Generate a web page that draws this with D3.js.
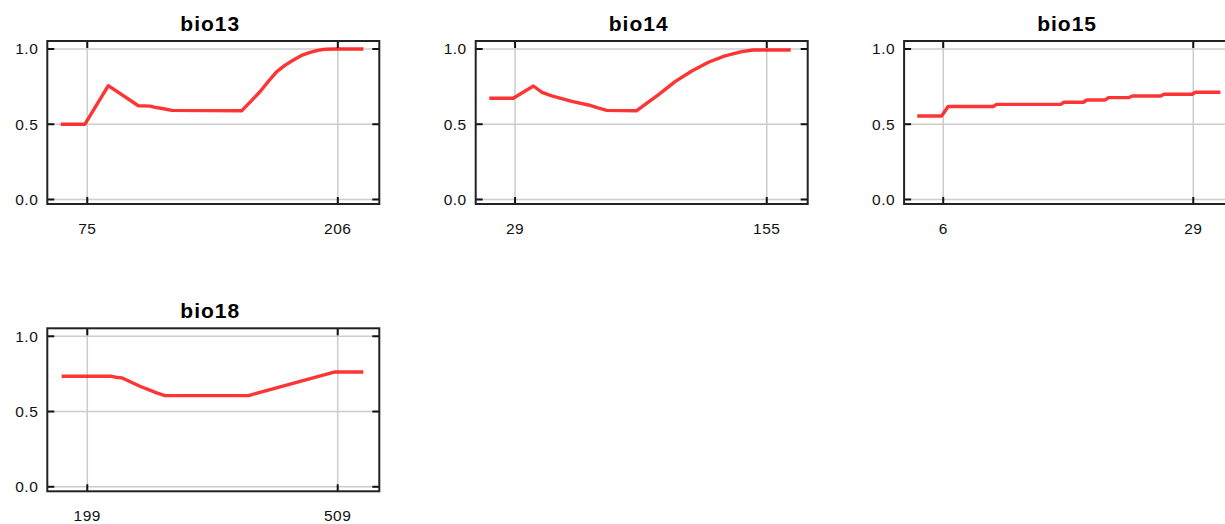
<!DOCTYPE html>
<html>
<head>
<meta charset="utf-8">
<script src="https://cdn.jsdelivr.net/npm/d3@7"></script>
<style>
  html, body { margin: 0; padding: 0; background: #fff; }
  svg { display: block; }
  .title { font-family: "Liberation Sans", Arial, sans-serif; font-weight: bold; font-size: 21px; letter-spacing: 1px; }
  .tick-label { font-family: "Liberation Sans", Arial, sans-serif; font-size: 15.5px; letter-spacing: 0.5px; fill: #111; }
</style>
</head>
<body>
<svg id="chart" width="1225" height="524"></svg>
<script>
// Response curves for each predictor
const variables = ["bio13", "bio14", "bio15", "bio18"];

const bio13X = [61.1, 73.8, 86.0, 101.7, 108.0, 110.4, 113.5, 119.2, 155.8, 160.5, 165.3, 169.8, 174.1, 178.5, 182.8, 187.0, 191.5, 195.5, 199.4, 205.0, 219.4];
const bio13Y = [0.50, 0.50, 0.756, 0.623, 0.620, 0.612, 0.606, 0.592, 0.590, 0.652, 0.716, 0.786, 0.849, 0.893, 0.927, 0.957, 0.978, 0.991, 0.998, 1.0, 1.0];

const bio14X = [16.1, 28.1, 38.2, 42.5, 47.4, 57.4, 65.7, 70.5, 74.9, 89.9, 95.0, 100.7, 109.1, 117.5, 125.8, 134.1, 142.5, 148.3, 167.0];
const bio14Y = [0.673, 0.673, 0.754, 0.712, 0.688, 0.652, 0.628, 0.608, 0.592, 0.590, 0.640, 0.695, 0.783, 0.854, 0.912, 0.954, 0.982, 0.993, 0.993];

const bio15X = [3.6, 5.85, 6.45, 10.6, 10.9, 16.8, 17.1, 18.9, 19.2, 20.9, 21.2, 23.1, 23.4, 26.0, 26.3, 28.9, 29.2, 31.5];
const bio15Y = [0.555, 0.555, 0.618, 0.618, 0.632, 0.632, 0.646, 0.646, 0.661, 0.661, 0.677, 0.677, 0.688, 0.688, 0.699, 0.699, 0.712, 0.712];

const bio18X = [167.3, 229.2, 234.0, 241.6, 264.2, 284.9, 295.2, 398.3, 505.7, 540.7];
const bio18Y = [0.734, 0.734, 0.728, 0.724, 0.668, 0.624, 0.606, 0.606, 0.763, 0.763];

// Axis extents and tick labels
const xDomains = [[54.1, 227.7], [9.3, 175.5], [2.4, 32.94], [149.5, 560.5]];
const xTicks = [[75, 206], [29, 155], [6, 29], [199, 509]];
const yTicks = [0, 0.5, 1.0];
const yTickLabels = ["0.0", "0.5", "1.0"];

const seriesX = [bio13X, bio14X, bio15X, bio18X];
const seriesY = [bio13Y, bio14Y, bio15Y, bio18Y];

const svg = d3.select("#chart");

const panelW = 332, panelH = 163;
const originX = 47.3, originY = 41, stepX = 428.4, stepY = 287.3;
const tickLen = 7;

variables.forEach((name, i) => {
  const col = i % 3, row = Math.floor(i / 3);
  const g = svg.append("g")
    .attr("transform", `translate(${originX + col * stepX},${originY + row * stepY})`);

  const x = d3.scaleLinear().domain(xDomains[i]).range([0, panelW]);
  const y = d3.scaleLinear().domain([-0.03, 1.053]).range([panelH, 0]);

  // grid
  g.selectAll(".gx").data(xTicks[i]).join("line")
    .attr("x1", d => x(d)).attr("x2", d => x(d))
    .attr("y1", 0).attr("y2", panelH)
    .attr("stroke", "#cccccc").attr("stroke-width", 1.5);
  g.selectAll(".gy").data(yTicks).join("line")
    .attr("x1", 0).attr("x2", panelW)
    .attr("y1", d => y(d)).attr("y2", d => y(d))
    .attr("stroke", "#cccccc").attr("stroke-width", 1.5);

  // curve
  const pts = seriesX[i].map((v, k) => [v, seriesY[i][k]]);
  g.append("path")
    .datum(pts)
    .attr("d", d3.line().x(d => x(d[0])).y(d => y(d[1])))
    .attr("fill", "none")
    .attr("stroke", "#ff1010")
    .attr("stroke-opacity", 0.85)
    .attr("stroke-width", 3.4)
    .attr("stroke-linejoin", "round");

  // inward ticks on all four sides
  const tickStyle = sel => sel.attr("stroke", "#111").attr("stroke-width", 2);
  xTicks[i].forEach(t => {
    tickStyle(g.append("line").attr("x1", x(t)).attr("x2", x(t)).attr("y1", panelH).attr("y2", panelH - tickLen));
    tickStyle(g.append("line").attr("x1", x(t)).attr("x2", x(t)).attr("y1", 0).attr("y2", tickLen));
  });
  yTicks.forEach(t => {
    tickStyle(g.append("line").attr("x1", 0).attr("x2", tickLen).attr("y1", y(t)).attr("y2", y(t)));
    tickStyle(g.append("line").attr("x1", panelW).attr("x2", panelW - tickLen).attr("y1", y(t)).attr("y2", y(t)));
  });

  // frame
  g.append("rect")
    .attr("x", 0).attr("y", 0).attr("width", panelW).attr("height", panelH)
    .attr("fill", "none").attr("stroke", "#222").attr("stroke-width", 2);

  // tick labels
  g.selectAll(".xl").data(xTicks[i]).join("text")
    .attr("class", "tick-label")
    .attr("x", d => x(d)).attr("y", panelH + 30)
    .attr("text-anchor", "middle")
    .text(d => d);
  g.selectAll(".yl").data(yTicks).join("text")
    .attr("class", "tick-label")
    .attr("x", -9).attr("y", d => y(d) + 5.5)
    .attr("text-anchor", "end")
    .text((d, k) => yTickLabels[k]);

  // title
  g.append("text")
    .attr("class", "title")
    .attr("x", panelW / 2 - 3).attr("y", -10.5)
    .attr("text-anchor", "middle")
    .text(name);
});
</script>
</body>
</html>
